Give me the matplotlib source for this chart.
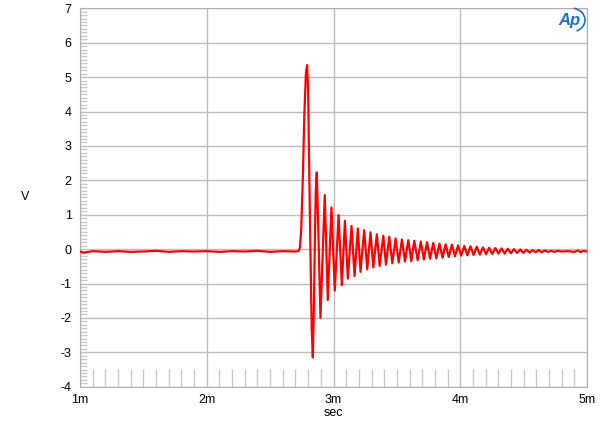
import matplotlib
matplotlib.use('Agg')
import matplotlib.pyplot as plt
from matplotlib.ticker import MultipleLocator, FuncFormatter
from matplotlib.patches import Arc

plt.rcParams['font.family'] = ['Liberation Sans', 'DejaVu Sans']

# time in ms, voltage in V
t_base = [1.00, 1.03, 1.10, 1.20, 1.30, 1.40, 1.50, 1.60, 1.70, 1.80, 1.90, 2.00,
          2.10, 2.20, 2.30, 2.40, 2.50, 2.60, 2.70]
v_base = [-0.07, -0.10, -0.06, -0.08, -0.06, -0.08, -0.07, -0.05, -0.08, -0.06, -0.07, -0.06,
          -0.08, -0.06, -0.07, -0.05, -0.08, -0.06, -0.07]

t_pulse = [2.720, 2.728, 2.735, 2.745, 2.757, 2.770, 2.782, 2.792, 2.800, 2.810,
           2.818, 2.828, 2.837, 2.845, 2.852, 2.860, 2.868, 2.880, 2.897]
v_pulse = [-0.06, -0.04, 0.05, 0.55, 1.91, 3.90, 5.10, 5.35, 4.60, 1.92,
           0.00, -2.30, -3.15, -1.80, 0.00, 1.70, 2.23, 0.60, -2.00]

t_ring = [2.931, 2.955, 2.984, 3.010, 3.040, 3.066, 3.090, 3.113, 3.142, 3.166,
          3.192, 3.213, 3.242, 3.266, 3.292, 3.314, 3.342, 3.364, 3.393, 3.414,
          3.440, 3.464, 3.490, 3.514, 3.540, 3.564, 3.590, 3.614, 3.637, 3.664,
          3.689, 3.713, 3.738, 3.762, 3.787, 3.811, 3.836, 3.860, 3.885, 3.909,
          3.934, 3.958, 3.983, 4.007, 4.032, 4.056, 4.081, 4.105, 4.130, 4.154,
          4.179, 4.203, 4.228, 4.252, 4.277, 4.301, 4.326, 4.350, 4.375, 4.399,
          4.424, 4.448, 4.473, 4.497, 4.522, 4.546, 4.571, 4.595, 4.620, 4.644,
          4.669, 4.693, 4.718, 4.742, 4.767]
v_ring = [1.57, -1.48, 1.21, -1.21, 0.99, -1.05, 0.82, -0.86, 0.67, -0.78,
          0.60, -0.66, 0.55, -0.59, 0.49, -0.53, 0.43, -0.49, 0.39, -0.45,
          0.36, -0.41, 0.31, -0.39, 0.28, -0.36, 0.26, -0.35, 0.24, -0.32,
          0.22, -0.30, 0.20, -0.28, 0.18, -0.27, 0.16, -0.25, 0.14, -0.23,
          0.13, -0.21, 0.11, -0.19, 0.09, -0.18, 0.08, -0.17, 0.07, -0.16,
          0.05, -0.15, 0.04, -0.14, 0.03, -0.13, 0.02, -0.13, 0.01, -0.12,
          0.00, -0.11, -0.01, -0.11, -0.02, -0.10, -0.03, -0.09, -0.03, -0.09,
          -0.04, -0.08, -0.05, -0.08, -0.05]

t_tail = [4.80, 4.85, 4.90, 4.93, 4.95, 4.97, 5.00]
v_tail = [-0.07, -0.06, -0.08, -0.04, -0.09, -0.05, -0.07]

t = t_base + t_pulse + t_ring + t_tail
v = v_base + v_pulse + v_ring + v_tail

fig = plt.figure(figsize=(6, 4.29), dpi=100)
ax = fig.add_axes([80/600, 1 - 386.7/429, (587-80)/600, (386.7-8.3)/429])

ax.plot(t, v, color='#ff0000', lw=1.6, zorder=3)

ax.set_xlim(1, 5)
ax.set_ylim(-4, 7)
ax.xaxis.set_major_locator(MultipleLocator(1))
ax.xaxis.set_minor_locator(MultipleLocator(0.1))
ax.yaxis.set_major_locator(MultipleLocator(1))
ax.yaxis.set_minor_locator(MultipleLocator(0.1))
ax.xaxis.set_major_formatter(FuncFormatter(lambda x, p: '%dm' % round(x)))
ax.yaxis.set_major_formatter(FuncFormatter(lambda y, p: '%d' % round(y)))

ax.grid(True, which='major', color='#bdbdbd', lw=1)
ax.tick_params(which='major', length=0, labelsize=9, colors='black')
ax.tick_params(axis='x', which='major', pad=5)
ax.tick_params(axis='y', which='major', pad=6)
ax.tick_params(axis='x', which='minor', direction='in', length=13, color='#c8c8c8', width=1, bottom=True)
ax.tick_params(axis='y', which='minor', direction='in', length=5, color='#c8c8c8', width=1, left=True)
for s in ax.spines.values():
    s.set_color('#b0b0b0')

fig.text(333/600, 1 - 413/429, 'sec', fontsize=9, ha='center', va='center')
fig.text(25/600, 1 - 197/429, 'V', fontsize=9, ha='center', va='center')

# Ap logo
fig.text(569/600, 1 - 20/429, 'Ap', fontsize=12, color='#1e73be', style='italic',
         weight='bold', ha='center', va='center')
fig.add_artist(Arc((571/600, 1 - 20/429), 28/600, 24/429, theta1=-70, theta2=80,
                   color='#1e73be', lw=1.2, transform=fig.transFigure))

fig.savefig('out.png', dpi=100)
